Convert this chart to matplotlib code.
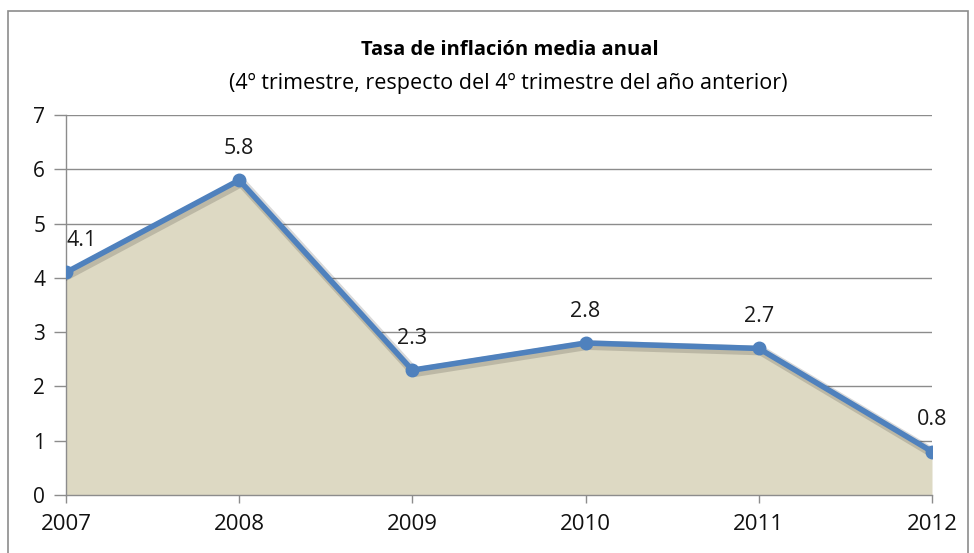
import matplotlib.pyplot as plt
import matplotlib.patheffects as pe
from matplotlib.patches import Rectangle

# Inflation data
years = ["2007", "2008", "2009", "2010", "2011", "2012"]
inflation = [4.1, 5.8, 2.3, 2.8, 2.7, 0.8]
y_ticks = [0, 1, 2, 3, 4, 5, 6, 7]

LINE_COLOR = "#4F81BD"
FILL_COLOR = "#DDD9C3"
GRID_COLOR = "#8C8C8C"

plt.rcParams["font.family"] = ["Open Sans", "DejaVu Sans"]

fig = plt.figure(figsize=(9.74, 5.53), dpi=100)
W, H = 974, 553
ax = fig.add_axes([66 / W, (H - 495) / H, (932 - 66) / W, (495 - 115) / H])

x = list(range(len(years)))

# Filled area below the line
ax.fill_between(x, inflation, 0, color=FILL_COLOR, zorder=1, linewidth=0)

# Line with a soft shadow, markers drawn on top
ax.plot(x, inflation, color=LINE_COLOR, linewidth=4, zorder=3,
        solid_joinstyle="round",
        path_effects=[pe.SimpleLineShadow(offset=(1.5, -1.5), shadow_color="black",
                                          alpha=0.15, linewidth=7),
                      pe.Normal()])
ax.plot(x, inflation, linestyle="none", marker="o", markersize=9,
        color=LINE_COLOR, zorder=4)

# Data labels above each point
for i, v in enumerate(inflation):
    dx = 11 if i == 0 else 0
    ax.annotate(f"{v}", (i, v), xytext=(dx, 23), textcoords="offset points",
                ha="center", va="center", fontsize=15.5, color="#1a1a1a",
                zorder=5, annotation_clip=False)

ax.set_xlim(0, len(years) - 1)
ax.set_ylim(0, 7)
ax.set_yticks(y_ticks)
ax.set_xticks(x)
ax.set_xticklabels(years)

ax.grid(axis="y", color=GRID_COLOR, linewidth=1, zorder=0)
ax.set_axisbelow(True)
for side in ["top", "right"]:
    ax.spines[side].set_visible(False)
for side in ["left", "bottom"]:
    ax.spines[side].set_color(GRID_COLOR)
    ax.spines[side].set_linewidth(1)

ax.tick_params(axis="y", length=9, width=1, color=GRID_COLOR, labelsize=15,
               pad=6, labelcolor="#111111")
ax.tick_params(axis="x", length=6, width=1, color=GRID_COLOR, labelsize=16,
               pad=8, labelcolor="#111111")

# Titles
fig.text(510 / W, 1 - 50 / H, "Tasa de inflación media anual", ha="center",
         va="center", fontsize=14.5, fontweight="bold", color="black")
fig.text(508 / W, 1 - 83 / H,
         "(4º trimestre, respecto del 4º trimestre del año anterior)",
         ha="center", va="center", fontsize=15.5, color="black")

# Chart border
fig.patches.append(Rectangle((8 / W, -0.05), (968 - 8) / W, 1 - 11 / H + 0.05,
                             transform=fig.transFigure, fill=False,
                             edgecolor="#8C8C8C", linewidth=1.2))

fig.savefig("out.png", dpi=100)
